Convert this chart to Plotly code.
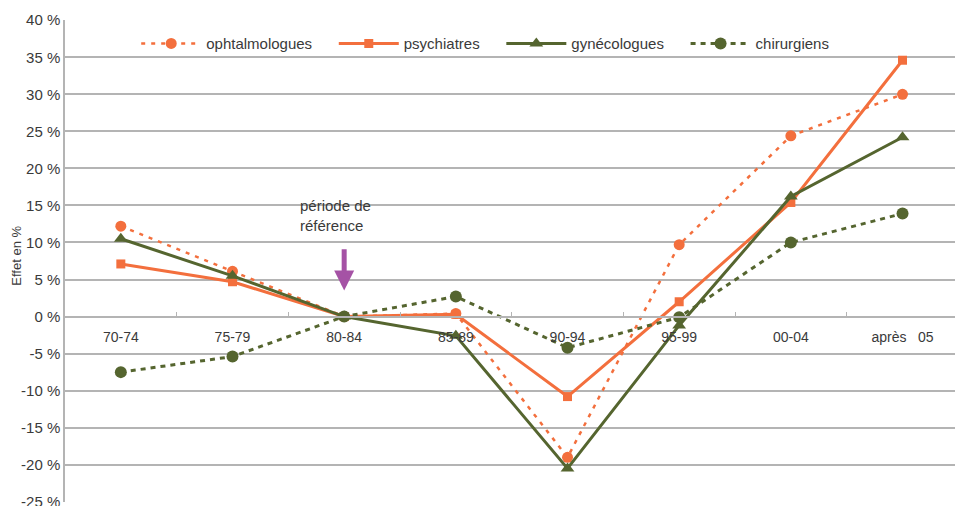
import plotly.graph_objects as go

categories = ["70-74", "75-79", "80-84", "85-89", "90-94", "95-99", "00-04", "après   05"]
ophtalmologues = [12.2, 6.1, 0.0, 0.4, -19.0, 9.7, 24.4, 30.0]
psychiatres = [7.1, 4.7, 0.0, 0.3, -10.8, 2.0, 15.4, 34.6]
gynecologues = [10.5, 5.5, 0.0, -2.6, -20.5, -1.2, 16.2, 24.2]
chirurgiens = [-7.5, -5.4, 0.0, 2.7, -4.2, -0.1, 10.0, 13.9]
y_ticks = [40, 35, 30, 25, 20, 15, 10, 5, 0, -5, -10, -15, -20, -25]

ORANGE = "#F36F3D"
OLIVE = "#55652F"
GRID = "#B4B4B4"
TXT = "#3A3A3A"
FONT = "Liberation Sans"
PAD = "\u00a0" * 4

fig = go.Figure()
fig.add_trace(go.Scatter(x=categories, y=ophtalmologues, name="ophtalmologues" + PAD, mode="lines+markers",
                         line=dict(color=ORANGE, width=2.5, dash="4px,6px"),
                         marker=dict(symbol="circle", size=11, color=ORANGE)))
fig.add_trace(go.Scatter(x=categories, y=psychiatres, name="psychiatres" + PAD, mode="lines+markers",
                         line=dict(color=ORANGE, width=3),
                         marker=dict(symbol="square", size=9, color=ORANGE)))
fig.add_trace(go.Scatter(x=categories, y=gynecologues, name="gynécologues" + PAD, mode="lines+markers",
                         line=dict(color=OLIVE, width=3),
                         marker=dict(symbol="triangle-up", size=12, color=OLIVE)))
fig.add_trace(go.Scatter(x=categories, y=chirurgiens, name="chirurgiens", mode="lines+markers",
                         line=dict(color=OLIVE, width=3, dash="5px,5px"),
                         marker=dict(symbol="circle", size=12, color=OLIVE)))

fig.add_annotation(x=2, y=0, xref="x", yref="y", ax=2, ay=9.3, axref="x", ayref="y",
                   text="", showarrow=True, arrowhead=2, arrowsize=0.8, arrowwidth=5,
                   arrowcolor="#A552A5", standoff=26)
fig.add_annotation(x=1.59, y=13.7, xref="x", yref="y", text="période de<br>référence",
                   showarrow=False, xanchor="left", font=dict(family=FONT, size=15, color=TXT), align="left")
fig.add_annotation(x=-58 / 890, y=0.51, xref="paper", yref="paper", text="Effet en %", textangle=-90,
                   showarrow=False, font=dict(family=FONT, size=13, color=TXT))

fig.update_layout(
    width=955, height=506,
    margin=dict(l=65, r=0, t=20, b=4, autoexpand=False),
    paper_bgcolor="white", plot_bgcolor="white",
    font=dict(family=FONT, color=TXT),
    showlegend=True,
    legend=dict(orientation="h", x=0.08, xanchor="left", y=0.985, yanchor="top",
                font=dict(family=FONT, size=15, color=TXT), bgcolor="rgba(0,0,0,0)",
                itemwidth=60, tracegroupgap=0),
    xaxis=dict(type="category", range=[-0.5, 7.47], anchor="free", position=25.03 / 65.06,
               showgrid=False, showline=True, linecolor=GRID, linewidth=1.5,
               ticks="inside", tickson="boundaries", ticklen=4, tickcolor=GRID,
               tickfont=dict(family=FONT, size=14, color=TXT), ticklabelstandoff=8,
               zeroline=False),
    yaxis=dict(range=[-25.03, 40.03], tickvals=y_ticks, ticktext=[f"{v} %" for v in y_ticks],
               ticklabeloverflow="allow",
               showgrid=True, gridcolor=GRID, gridwidth=1.5, showline=True, linecolor=GRID,
               linewidth=1.5, zeroline=False, tickfont=dict(family=FONT, size=15, color=TXT)),
)

fig.write_html("out.html", config={"displayModeBar": False},
               post_script="document.body.style.margin='0';document.body.style.overflow='hidden';")
